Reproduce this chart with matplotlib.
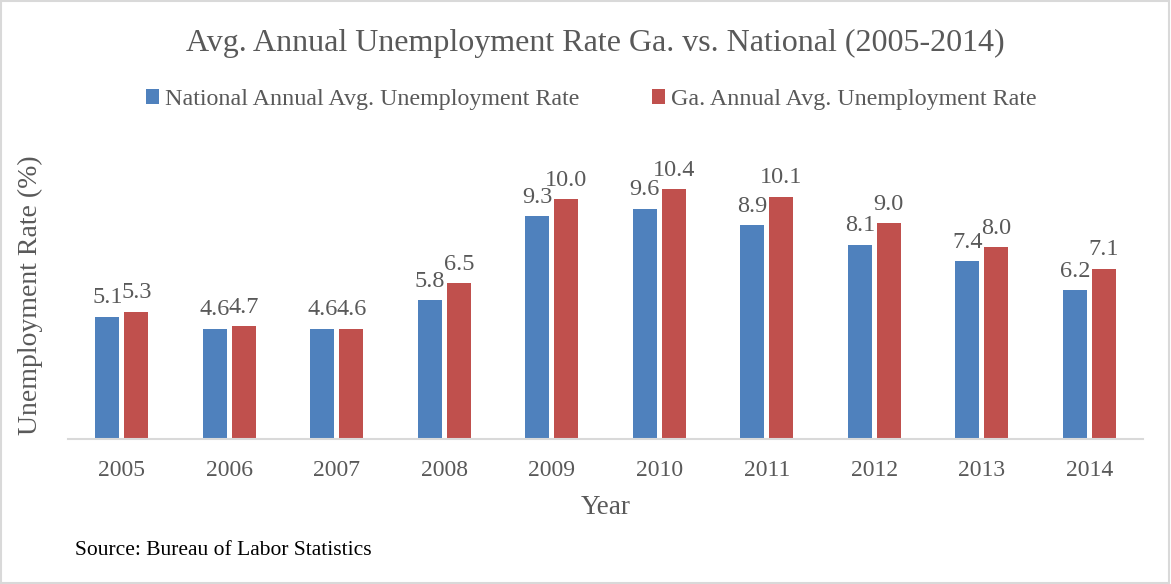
import matplotlib.pyplot as plt
import numpy as np
from matplotlib.patches import Rectangle

years = ['2005', '2006', '2007', '2008', '2009', '2010', '2011', '2012', '2013', '2014']
national = [5.1, 4.6, 4.6, 5.8, 9.3, 9.6, 8.9, 8.1, 7.4, 6.2]
georgia = [5.3, 4.7, 4.6, 6.5, 10.0, 10.4, 10.1, 9.0, 8.0, 7.1]

plt.rcParams['font.family'] = ['Liberation Serif', 'DejaVu Serif']
gray = '#595959'

fig = plt.figure(figsize=(11.71, 5.84), dpi=100)
ax = fig.add_axes([0.0581, 0.2483, 0.918, 0.493])

x = np.arange(len(years))
w = 0.225
b1 = ax.bar(x - 0.135, national, w, color='#4F81BD', label='National Annual Avg. Unemployment Rate')
b2 = ax.bar(x + 0.135, georgia, w, color='#C0504D', label='Ga. Annual Avg. Unemployment Rate')
ax.bar_label(b1, fmt='%.1f', padding=6, fontsize=17.5, color=gray)
ax.bar_label(b2, fmt='%.1f', padding=6, fontsize=17.5, color=gray)

ax.set_xlim(-0.5, 9.5)
ax.set_ylim(0, 12)
ax.set_xticks(x)
ax.set_xticklabels(years, fontsize=17, color=gray)
ax.set_yticks([])
ax.tick_params(axis='x', length=0, pad=15)
for s in ['top', 'right', 'left']:
    ax.spines[s].set_visible(False)
ax.spines['bottom'].set_color('#D9D9D9')
ax.spines['bottom'].set_linewidth(1.5)

ax.set_xlabel('Year', fontsize=19.5, color=gray, labelpad=10)
fig.text(0.026, 0.494, 'Unemployment Rate (%)', rotation=90, fontsize=20, color=gray,
         ha='center', va='center')

fig.text(0.5085, 0.925, 'Avg. Annual Unemployment Rate Ga. vs. National (2005-2014)',
         fontsize=23, color=gray, ha='center', va='center')

fig.legend(loc='center', bbox_to_anchor=(0.505, 0.83), ncol=2, frameon=False, fontsize=17.3,
           labelcolor=gray, handlelength=0.55, handleheight=0.55, handletextpad=0.25,
           columnspacing=3.0)

fig.text(0.064, 0.058, 'Source: Bureau of Labor Statistics', fontsize=15.5, color='black',
         va='center')

fig.patches.append(Rectangle((0.0005, 0.001), 0.998, 0.997, transform=fig.transFigure,
                             fill=False, edgecolor='#D9D9D9', linewidth=1.5))

fig.savefig('out.png', dpi=100)
